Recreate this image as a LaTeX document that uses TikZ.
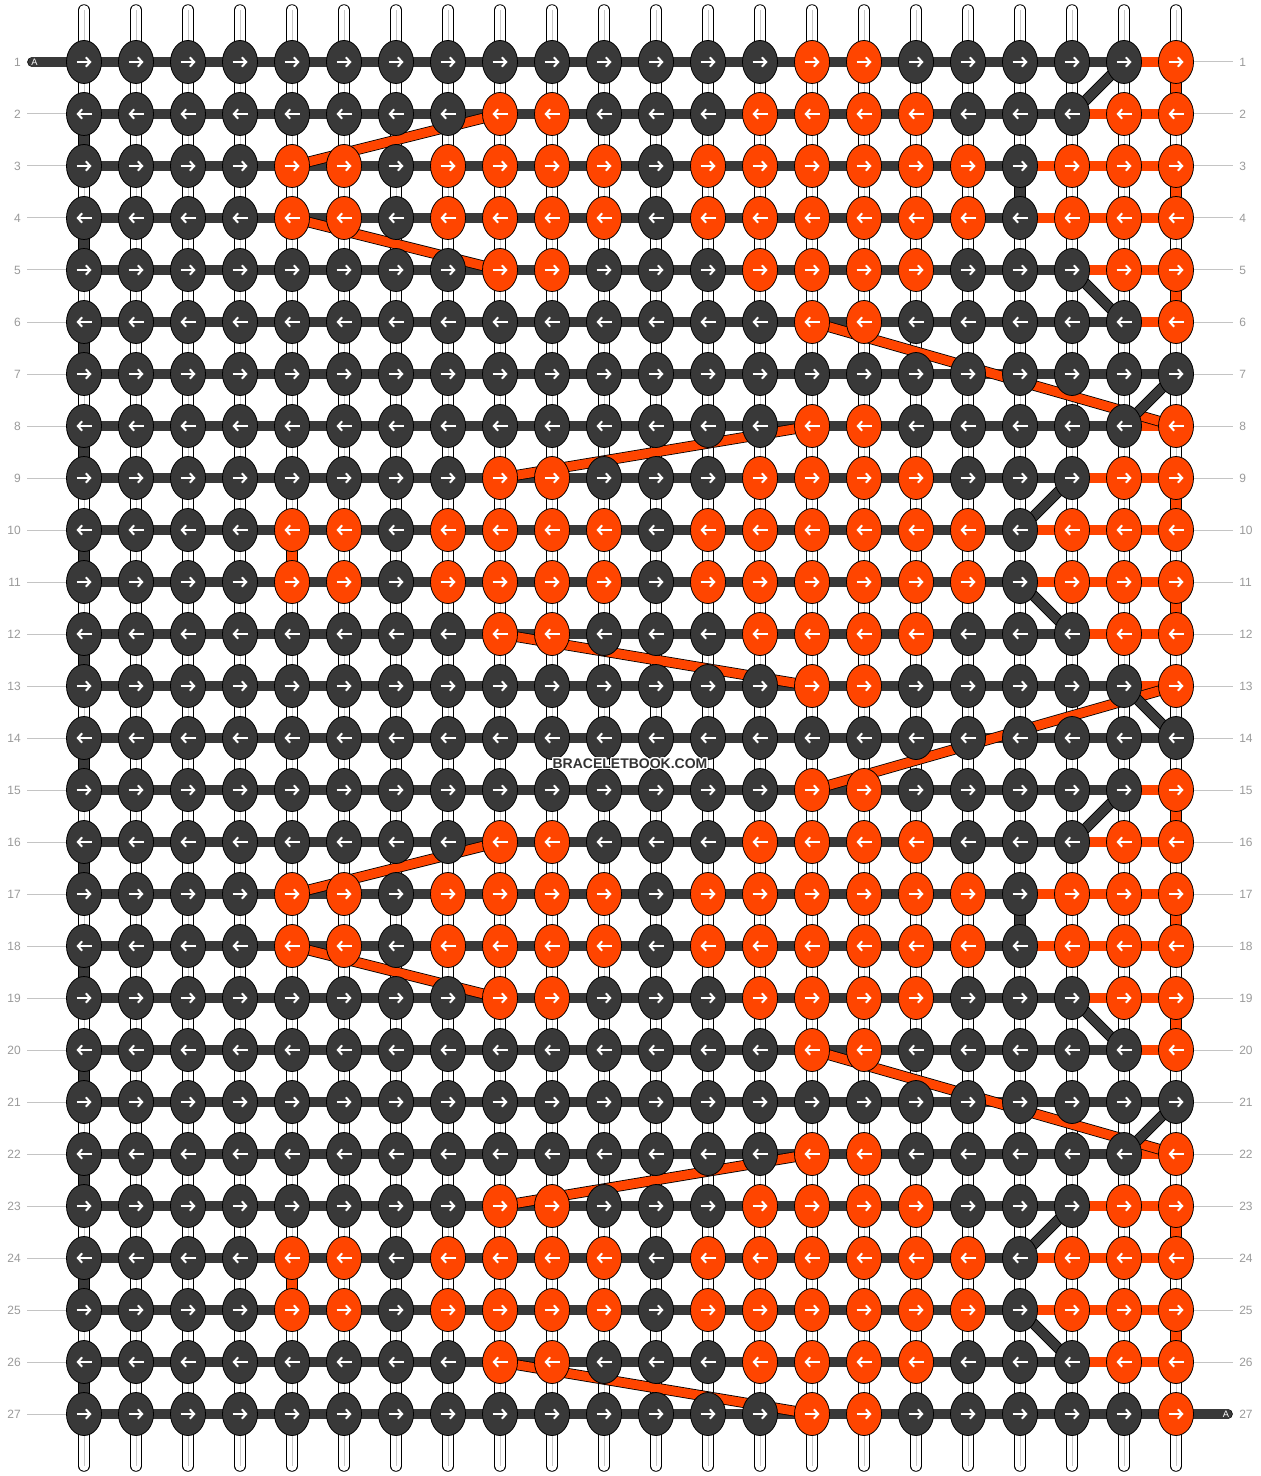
\documentclass[tikz,border=0pt]{standalone}
\usepackage{fontspec}
\setmainfont{Liberation Sans}
\usepackage{contour}
\contourlength{0.9pt}
\usetikzlibrary{shapes.geometric,arrows.meta}

\definecolor{knotdark}{HTML}{393939}
\definecolor{knotorange}{HTML}{FF4500}
\definecolor{labgrey}{HTML}{9A9A9A}
\definecolor{lablinegrey}{HTML}{C4C4C4}
\definecolor{wmgrey}{HTML}{333333}

\pgfdeclarelayer{back}
\pgfdeclarelayer{threads}
\pgfsetlayers{back,threads,main}

\tikzset{every picture/.style={line width=0.75pt}}
\tikzset{
  knot/.style={ellipse, draw=black, line width=0.6pt, minimum width=26.25pt, minimum height=32.25pt, inner sep=0pt},
  knotarrow/.style={white, line width=1.5pt, -{Straight Barb[length=3.2pt,width=7pt]}},
  thread/.style={draw=black, line width=0.6pt, double=#1, double distance=6.8pt},
  warp/.style={draw=black, line width=0.6pt, double=white, double distance=7.4pt, line cap=round},
  warpmid/.style={draw=black!22, line width=0.6pt},
  rowlab/.style={text=labgrey, font=\fontsize{9}{9}\selectfont, inner sep=0pt},
  labline/.style={draw=lablinegrey, line width=0.75pt},
  endlab/.style={text=white, font=\fontsize{7}{7}\selectfont, inner sep=0pt},
}

% knot colours of the four kinds of rows (1 = orange)
\def\rowA{{0,0,0,0,0,0,0,0,0,0,0,0,0,0,1,1,0,0,0,0,0,1}}
\def\rowB{{0,0,0,0,0,0,0,0,1,1,0,0,0,1,1,1,1,0,0,0,1,1}}
\def\rowC{{0,0,0,0,1,1,0,1,1,1,1,0,1,1,1,1,1,1,0,1,1,1}}
\def\rowZ{{0,0,0,0,0,0,0,0,0,0,0,0,0,0,0,0,0,0,0,0,0,0}}
% row / kind / first orange segment
\def\rowlist{1/A/21,2/B/20,3/C/19,4/C/19,5/B/20,6/A/21,7/Z/22,8/A/21,9/B/20,10/C/19,11/C/19,12/B/20,13/A/21,14/Z/22,15/A/21,16/B/20,17/C/19,18/C/19,19/B/20,20/A/21,21/Z/22,22/A/21,23/B/20,24/C/19,25/C/19,26/B/20,27/A/22}

\begin{document}
\begin{tikzpicture}[x=0.75pt,y=0.75pt,yscale=-1,xscale=1]
        \useasboundingbox (0,0) rectangle (1260,1476);

        %Background and warp strings
        \begin{pgfonlayer}{back}
          \fill[white] (0,0) rectangle (1260,1476);
          \foreach \c [evaluate=\c as \kx using 84+52*(\c-1)] in {1,...,22} {
            \draw[warp] (\kx,10) -- (\kx,1466);
            \draw[warpmid] (\kx,10) -- (\kx,1466);
          }
        \end{pgfonlayer}

        %Knots
        \foreach \r/\t/\f [evaluate=\r as \ky using 62+52*(\r-1), evaluate=\r as \dir using {int(1-2*mod(\r+1,2))}] in \rowlist {
          \expandafter\let\expandafter\kdata\csname row\t\endcsname
          \foreach \c [evaluate=\c as \kx using 84+52*(\c-1)] in {1,...,22} {
            \pgfmathtruncatemacro\isor{\kdata[\c-1]}
            \ifnum\isor=1 \def\kfill{knotorange}\else\def\kfill{knotdark}\fi
            \node[knot, fill=\kfill] (n-\r-\c) at (\kx,\ky) {};
            \draw[knotarrow] (\kx-7.5*\dir,\ky) -- (\kx+7.5*\dir,\ky);
          }
          % Text Node
          \node[rowlab, anchor=east] (ll-\r) at (21,\ky) {\r};
          \node[rowlab, anchor=west] (rl-\r) at (1239,\ky) {\r};
          \ifnum\r>1 \draw[labline] ([xshift=4.5pt]ll-\r.east) -- (n-\r-1.west); \fi
          \ifnum\r<27 \draw[labline] (n-\r-22.east) -- ([xshift=-4.5pt]rl-\r.west); \fi
        }

        %Threads
        \begin{pgfonlayer}{threads}
          \foreach \r/\t/\f in \rowlist {
            \foreach \c [evaluate=\c as \cn using int(\c+1)] in {1,...,21} {
              \ifnum\c<\f \def\tcol{knotdark}\else\def\tcol{knotorange}\fi
              \draw[thread=\tcol] (n-\r-\c.center) -- (n-\r-\cn.center);
            }
          }
          % turns at the edges
          \foreach \r [evaluate=\r as \rn using int(\r+1)] in {2,4,...,26}
            \draw[thread=knotdark] (n-\r-1.center) -- (n-\rn-1.center);
          \foreach \r [evaluate=\r as \rn using int(\r+1)] in {1,3,5,9,11,15,17,19,23,25}
            \draw[thread=knotorange] (n-\r-22.center) -- (n-\rn-22.center);
          \foreach \r [evaluate=\r as \rn using int(\r+1)] in {3,17}
            \draw[thread=knotdark] (n-\r-19.center) -- (n-\rn-19.center);
          \foreach \r [evaluate=\r as \rn using int(\r+1)] in {10,24}
            \draw[thread=knotorange] (n-\r-5.center) -- (n-\rn-5.center);
          % jumps
          \foreach \ra/\ca/\rb/\cb in {2/9/3/5,4/5/5/9,6/15/8/22,8/15/9/9,12/9/13/15,13/22/15/15,16/9/17/5,18/5/19/9,20/15/22/22,22/15/23/9,26/9/27/15}
            \draw[thread=knotorange] (n-\ra-\ca.center) -- (n-\rb-\cb.center);
          \foreach \ra/\ca/\rb/\cb in {1/21/2/20,5/20/6/21,7/22/8/21,9/20/10/19,11/19/12/20,13/21/14/22,15/21/16/20,19/20/20/21,21/22/22/21,23/20/24/19,25/19/26/20}
            \draw[thread=knotdark] (n-\ra-\ca.center) -- (n-\rb-\cb.center);
          % thread ends
          \coordinate (tailL) at (32.5,62);
          \coordinate (tailR) at (1227.5,1414);
          \draw[thread=knotdark, line cap=round] (tailL) -- (n-1-1.center);
          \draw[thread=knotdark, line cap=round] (n-27-22.center) -- (tailR);
        \end{pgfonlayer}

        % Text Node
        \node[endlab] (tagL) at (34.5,62) {A};
        \node[endlab] (tagR) at (1226,1414) {A};
        % Text Node
        \node[font=\bfseries\fontsize{10.5}{10.5}\selectfont, text=wmgrey, inner sep=0pt] (wm) at (630,764) {\contour{white}{BRACELETBOOK.COM}};

\end{tikzpicture}
\end{document}
